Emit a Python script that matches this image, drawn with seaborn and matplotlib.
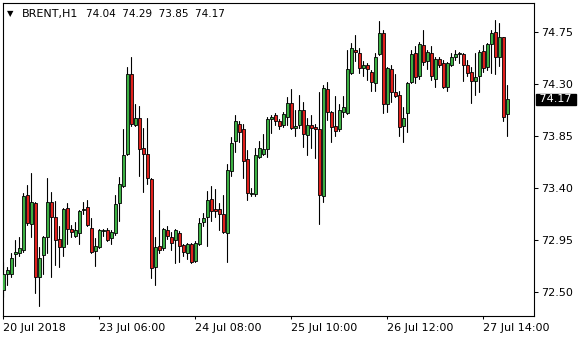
import numpy as np
import pandas as pd
import seaborn as sns
import matplotlib
matplotlib.use("Agg")
import matplotlib.pyplot as plt
from matplotlib.transforms import blended_transform_factory

# ---- data (BRENT, H1) ----
open_ = [72.52, 72.66, 72.66, 72.83, 72.84, 72.87, 73.34, 73.09, 73.27, 72.63,
         72.82, 72.98, 73.28, 73.15, 72.96, 72.89, 73.23, 73.05, 72.99, 73.01,
         73.21, 73.24, 73.06, 72.86, 72.89, 73.03, 73.04, 72.97, 73.01, 73.27,
         73.42, 73.70, 74.39, 73.95, 74.01, 73.75, 73.70, 73.48, 72.72, 72.90,
         72.88, 73.04, 72.98, 72.95, 73.01, 72.91, 72.84, 72.92, 72.77, 72.92,
         73.11, 73.15, 73.31, 73.22, 73.22, 73.18, 73.01, 73.55, 73.81, 73.96,
         73.91, 73.65, 73.35, 73.35, 73.67, 73.70, 73.74, 74.00, 74.03, 73.98,
         73.95, 74.02, 74.14, 73.92, 73.95, 74.08, 73.86, 73.95, 73.93, 73.91,
         73.33, 74.26, 74.06, 73.94, 73.91, 74.06, 74.05, 74.40, 74.60, 74.57,
         74.44, 74.47, 74.41, 74.31, 74.56, 74.74, 74.13, 74.43, 74.23, 74.21,
         73.94, 74.05, 74.32, 74.57, 74.37, 74.64, 74.50, 74.57, 74.35, 74.52,
         74.48, 74.28, 74.47, 74.54, 74.56, 74.56, 74.47, 74.41, 74.33, 74.37,
         74.59, 74.45, 74.65, 74.75, 74.54, 74.71, 74.04]
high = [72.76, 72.72, 72.84, 72.95, 72.98, 73.36, 73.43, 73.53, 73.28, 72.89,
        72.99, 73.49, 73.37, 73.29, 73.07, 73.23, 73.27, 73.08, 73.11, 73.21,
        73.28, 73.30, 73.14, 72.97, 73.05, 73.05, 73.06, 73.04, 73.34, 73.50,
        73.91, 74.45, 74.54, 74.13, 74.11, 73.92, 74.01, 73.49, 72.98, 73.21,
        73.06, 73.07, 73.02, 73.05, 73.03, 72.92, 72.93, 72.93, 72.94, 73.14,
        73.19, 73.38, 73.42, 73.39, 73.27, 73.34, 73.61, 73.84, 74.03, 73.98,
        73.96, 73.73, 73.40, 73.75, 73.81, 73.87, 74.02, 74.03, 74.05, 74.00,
        74.06, 74.19, 74.26, 74.08, 74.21, 74.15, 74.01, 74.03, 73.96, 74.23,
        74.29, 74.32, 74.07, 74.20, 74.13, 74.20, 74.60, 74.66, 74.73, 74.61,
        74.50, 74.48, 74.42, 74.57, 74.85, 74.77, 74.45, 74.47, 74.39, 74.24,
        74.10, 74.32, 74.60, 74.63, 74.67, 74.77, 74.60, 74.63, 74.54, 74.54,
        74.51, 74.49, 74.57, 74.60, 74.58, 74.57, 74.51, 74.45, 74.57, 74.60,
        74.64, 74.66, 74.77, 74.86, 74.83, 74.71, 74.29]
low = [72.46, 72.56, 72.63, 72.73, 72.81, 72.85, 73.08, 72.98, 72.49, 72.38,
       72.66, 72.84, 72.63, 72.74, 72.72, 72.81, 72.92, 72.98, 72.98, 72.92,
       73.18, 73.07, 72.84, 72.73, 72.88, 72.99, 72.94, 72.92, 73.00, 73.12,
       73.41, 73.69, 73.94, 73.94, 73.51, 73.37, 73.44, 72.62, 72.56, 72.84,
       72.87, 72.96, 72.87, 72.75, 72.76, 72.81, 72.79, 72.75, 72.76, 72.91,
       73.07, 72.90, 73.12, 73.15, 73.04, 73.01, 72.76, 73.51, 73.71, 73.80,
       73.49, 73.30, 73.33, 73.33, 73.66, 73.69, 73.67, 73.88, 73.95, 73.91,
       73.93, 73.95, 73.91, 73.85, 73.92, 73.76, 73.69, 73.75, 73.66, 73.09,
       73.28, 73.99, 73.80, 73.85, 73.90, 74.02, 74.04, 74.39, 74.50, 74.40,
       74.37, 74.34, 74.24, 74.24, 74.55, 74.05, 74.06, 74.15, 74.19, 73.85,
       73.80, 73.89, 74.31, 74.31, 74.35, 74.47, 74.43, 74.34, 74.28, 74.45,
       74.27, 74.24, 74.46, 74.51, 74.48, 74.33, 74.37, 74.14, 74.21, 74.23,
       74.41, 74.42, 74.40, 74.39, 74.46, 73.98, 73.85]
close = [72.66, 72.69, 72.80, 72.85, 72.88, 73.33, 73.10, 73.28, 72.63, 72.80,
         72.98, 73.28, 73.15, 72.95, 72.89, 73.22, 73.05, 73.02, 73.04, 73.20,
         73.22, 73.08, 72.85, 72.90, 73.04, 73.04, 72.95, 73.02, 73.26, 73.44,
         73.69, 74.39, 73.96, 74.01, 73.74, 73.70, 73.49, 72.71, 72.89, 72.87,
         73.05, 72.99, 72.93, 73.04, 72.90, 72.85, 72.92, 72.76, 72.93, 73.10,
         73.14, 73.30, 73.20, 73.20, 73.18, 73.02, 73.56, 73.79, 73.98, 73.89,
         73.64, 73.36, 73.36, 73.69, 73.75, 73.74, 74.00, 74.02, 73.98, 73.94,
         74.04, 74.14, 73.92, 73.94, 74.08, 73.87, 73.95, 73.92, 73.91, 73.34,
         74.27, 74.06, 73.93, 73.90, 74.08, 74.10, 74.43, 74.61, 74.58, 74.44,
         74.47, 74.43, 74.32, 74.54, 74.74, 74.13, 74.44, 74.23, 74.20, 73.93,
         74.01, 74.31, 74.56, 74.36, 74.65, 74.49, 74.58, 74.37, 74.52, 74.47,
         74.28, 74.48, 74.54, 74.56, 74.57, 74.47, 74.40, 74.33, 74.36, 74.58,
         74.44, 74.65, 74.74, 74.54, 74.71, 74.02, 74.17]

symbol = "BRENT,H1"
price_ticks = [72.50, 72.95, 73.40, 73.85, 74.30, 74.75]
time_tick_bars = [0, 24, 48, 72, 96, 120]
time_tick_labels = ["20 Jul 2018", "23 Jul 06:00", "24 Jul 08:00",
                    "25 Jul 10:00", "26 Jul 12:00", "27 Jul 14:00"]

# ---- frame ----
n = len(close)
df = pd.DataFrame({"bar": np.arange(n), "open": open_, "high": high,
                   "low": low, "close": close})
df["bull"] = df["close"] >= df["open"]
wicks = pd.melt(df, id_vars="bar", value_vars=["low", "high"],
                value_name="price").sort_values(["bar", "variable"])

sns.set_theme(style="white")
plt.rcParams["font.family"] = ["DejaVu Sans"]

W, H = 580, 340
fig = plt.figure(figsize=(W / 100, H / 100), dpi=100)
fig.patch.set_facecolor("white")
L, R, T, B = 2.7, 534.3, 2.7, 315.7
ax = fig.add_axes([L / W, 1 - B / H, (R - L) / W, (B - T) / H])
ax.set_facecolor("white")

# wicks
sns.lineplot(data=wicks, x="bar", y="price", units="bar", estimator=None,
             sort=False, color="black", linewidth=0.8, ax=ax, zorder=2)

# bodies
body_bottom = np.minimum(df["open"], df["close"])
body_h = np.maximum((df["close"] - df["open"]).abs(), 0.004)
colors = np.where(df["bull"], "#3cb043", "#e0201c")
ax.bar(df["bar"], body_h, bottom=body_bottom, width=0.8, color=colors,
       edgecolor="black", linewidth=0.6, zorder=3)

ax.set_xlim(-0.15, 132.75)
ax.set_ylim(72.2974, 75.0061)
ax.set_xlabel("")
ax.set_ylabel("")

for s in ax.spines.values():
    s.set_visible(True)
    s.set_color("black")
    s.set_linewidth(0.8)

ax.yaxis.tick_right()
ax.set_yticks(price_ticks)
ax.set_yticklabels([f"{v:.2f}" for v in price_ticks])
ax.set_xticks(time_tick_bars)
ax.set_xticklabels(time_tick_labels)
for lbl in ax.get_xticklabels():
    lbl.set_horizontalalignment("left")
ax.tick_params(axis="y", left=False, right=True, direction="out", length=3,
               width=0.75, color="black", labelsize=8, pad=2,
               labelcolor="black")
ax.tick_params(axis="x", bottom=True, direction="out", length=2.5,
               width=0.75, color="black", labelsize=8, pad=2.5,
               labelcolor="black")
ax.grid(False)

# current price tag
last = close[-1]
tr = blended_transform_factory(ax.transAxes, ax.transData)
ax.annotate(f" {last:.2f} ", xy=(1, last), xycoords=tr,
            xytext=(1.5, 0), textcoords="offset points",
            ha="left", va="center", fontsize=8, color="white",
            bbox=dict(boxstyle="square,pad=0.05", facecolor="black",
                      edgecolor="black"), annotation_clip=False)

# header
fig.text(6.5 / W, 1 - 16 / H, "\u25BC", fontsize=6, color="black",
         va="baseline", ha="left")
fig.text(21.5 / W, 1 - 16.7 / H, symbol, fontsize=8, color="#000000",
         va="baseline", ha="left")
fig.text(86 / W, 1 - 16.7 / H,
         "  ".join(f"{v[-1]:.2f}" for v in (open_, high, low, close)),
         fontsize=7.5, color="#000000", va="baseline", ha="left")

fig.savefig("out.png", dpi=100, facecolor="white")
